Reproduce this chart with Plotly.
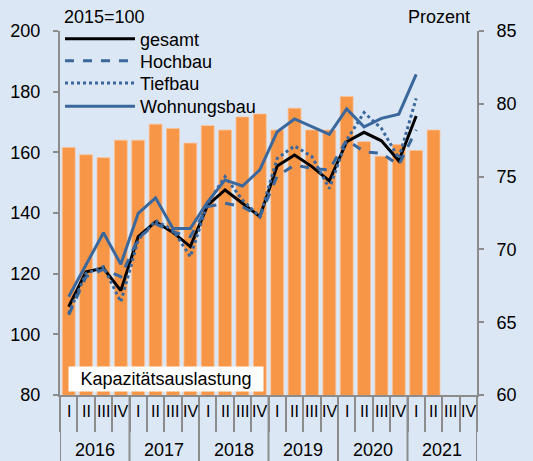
import plotly.graph_objects as go

years = ["2016", "2017", "2018", "2019", "2020", "2021"]
quarters = ["I", "II", "III", "IV"]

kapazitaet = [77.0, 76.5, 76.3, 77.5, 77.5, 78.6, 78.3, 77.3, 78.5, 78.2, 79.1, 79.3,
              78.2, 79.7, 78.2, 78.2, 80.5, 77.4, 76.4, 77.2, 76.8, 78.2]
gesamt = [109.1, 120.6, 121.8, 114.4, 132.2, 137.1, 133.6, 128.9, 142.6, 147.6, 143.2, 138.8,
          155.5, 159.1, 155.3, 150.6, 163.5, 166.6, 163.8, 157.2, 172.0]
hochbau = [106.4, 119.0, 121.4, 119.0, 131.7, 136.4, 133.8, 132.2, 142.1, 143.2, 142.1, 138.8,
           152.2, 155.8, 154.7, 154.2, 164.1, 160.2, 159.7, 155.8, 167.4]
tiefbau = [106.9, 120.1, 122.3, 110.7, 131.1, 137.5, 134.4, 125.6, 143.2, 152.0, 144.3, 138.8,
           158.0, 162.1, 158.6, 148.1, 164.1, 173.1, 167.9, 158.0, 177.8]
wohnungsbau = [112.4, 122.8, 133.5, 123.1, 139.9, 145.0, 134.9, 134.9, 143.7, 150.9, 148.9, 154.2,
               166.8, 171.0, 168.4, 165.9, 174.3, 168.4, 171.2, 172.6, 185.7]

cats = [f"{y} {q}" for y in years for q in quarters]
qlabels = [q for y in years for q in quarters]

FONT = "Liberation Sans, Arial, sans-serif"
BLUE = "#3A679C"
ORANGE = "#F79646"
BG = "#DCE7F5"
AX = "#8C8C8C"
FS = 18

fig = go.Figure()

n = len(kapazitaet)
fig.add_trace(go.Bar(x=cats[:n], y=kapazitaet, yaxis="y", marker_color=ORANGE,
                     marker_line_color="#FAC39A", marker_line_width=0.8,
                     showlegend=False, width=0.74))

m = len(gesamt)
fig.add_trace(go.Scatter(x=cats[:m], y=gesamt, yaxis="y2", mode="lines", name="gesamt",
                         line=dict(color="black", width=3), legend="legend"))
fig.add_trace(go.Scatter(x=cats[:m], y=hochbau, yaxis="y2", mode="lines", name="Hochbau",
                         line=dict(color=BLUE, width=3, dash="dash"), legend="legend2"))
fig.add_trace(go.Scatter(x=cats[:m], y=tiefbau, yaxis="y2", mode="lines", name="Tiefbau",
                         line=dict(color=BLUE, width=3, dash="dot"), legend="legend3"))
fig.add_trace(go.Scatter(x=cats[:m], y=wohnungsbau, yaxis="y2", mode="lines", name="Wohnungsbau",
                         line=dict(color=BLUE, width=3), legend="legend4"))

shapes = []
for i in range(len(years) + 1):
    shapes.append(dict(type="line", xref="x", yref="paper", x0=i * 4 - 0.5, x1=i * 4 - 0.5,
                       y0=0, y1=-0.2, line=dict(color=AX, width=2)))

annotations = [
    dict(text="2015=100", xref="paper", yref="paper", x=0.005, y=1.0, xanchor="left",
         yanchor="bottom", showarrow=False, font=dict(size=FS), yshift=2),
    dict(text="Prozent", xref="paper", yref="paper", x=0.988, y=1.0, xanchor="right",
         yanchor="bottom", showarrow=False, font=dict(size=FS), yshift=2),
    dict(text="Kapazitätsauslastung", xref="paper", yref="paper", x=0.019, y=0.008,
         xanchor="left", yanchor="bottom", showarrow=False, font=dict(size=FS),
         bgcolor="white", width=192, height=22, borderpad=1),
]
for i, q in enumerate(qlabels):
    annotations.append(dict(text=q, xref="x", yref="paper", x=i, y=-0.046,
                            yanchor="middle", showarrow=False, font=dict(size=16)))
for k, y in enumerate(years):
    annotations.append(dict(text=y, xref="x", yref="paper", x=k * 4 + 1.5, y=-0.151,
                            yanchor="middle", showarrow=False, font=dict(size=FS)))

leg_common = dict(x=0.0, xanchor="left", yanchor="top", bgcolor="rgba(0,0,0,0)",
                  font=dict(size=FS), itemwidth=70)

fig.update_layout(
    width=533, height=461,
    margin=dict(l=60, r=56, t=31, b=66, autoexpand=False),
    paper_bgcolor=BG, plot_bgcolor=BG,
    font=dict(family=FONT, size=FS, color="black"),
    xaxis=dict(type="category", categoryorder="array", categoryarray=cats,
               range=[-0.5, len(cats) - 0.5], tickvals=cats, showticklabels=False,
               showgrid=False, showline=True, linecolor=AX, linewidth=2,
               ticks="outside", tickson="boundaries", ticklen=35, tickcolor=AX, tickwidth=2,
               zeroline=False, automargin=False),
    yaxis=dict(side="right", range=[60, 85], dtick=5, showgrid=False, showline=True,
               linecolor=AX, linewidth=2, ticks="outside", ticklen=5, tickcolor=AX,
               tickwidth=2, zeroline=False, ticklabelstandoff=9, automargin=False),
    yaxis2=dict(overlaying="y", side="left", range=[80, 200], dtick=20, showgrid=False,
                showline=True, linecolor=AX, linewidth=2, ticks="outside", ticklen=5,
                tickcolor=AX, tickwidth=2, zeroline=False, ticklabelstandoff=9,
                automargin=False),
    legend=dict(y=1.029, **leg_common),
    legend2=dict(y=0.968, **leg_common),
    legend3=dict(y=0.907, **leg_common),
    legend4=dict(y=0.843, **leg_common),
    shapes=shapes,
    annotations=annotations,
)

fig.write_html("out.html", post_script="document.body.style.margin='0';",
               config={"displayModeBar": False})
